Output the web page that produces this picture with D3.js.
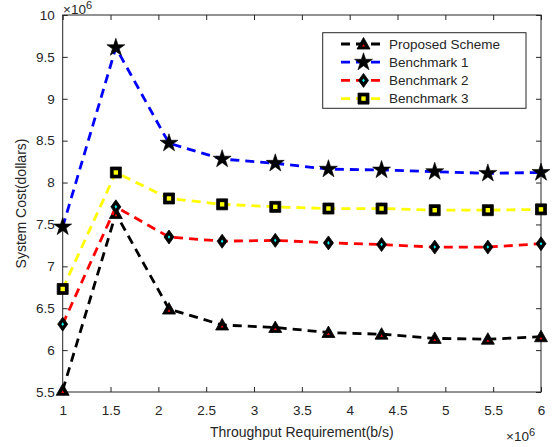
<!DOCTYPE html>
<html>
<head>
<meta charset="utf-8">
<script src="https://cdn.jsdelivr.net/npm/d3@7"></script>
<style>
body { margin: 0; background: #fff; }
svg text { font-family: "Liberation Sans", Arial, sans-serif; fill: #262626; }
</style>
</head>
<body>
<div id="chart"></div>
<script>
// throughput requirement (x 1e6 b/s)
var throughput = [1, 1.5556, 2.1111, 2.6667, 3.2222, 3.7778, 4.3333, 4.8889, 5.4444, 6];

// system cost (x 1e6 dollars)
var proposed = [5.52, 7.63, 6.49, 6.30, 6.27, 6.21, 6.19, 6.14, 6.13, 6.16];
var bench1   = [7.47, 9.61, 8.47, 8.28, 8.23, 8.16, 8.15, 8.13, 8.11, 8.12];
var bench2   = [6.31, 7.71, 7.35, 7.30, 7.31, 7.28, 7.26, 7.23, 7.23, 7.27];
var bench3   = [6.73, 8.12, 7.81, 7.74, 7.71, 7.69, 7.69, 7.67, 7.67, 7.68];

var seriesNames = ["Proposed Scheme", "Benchmark 1", "Benchmark 2", "Benchmark 3"];

var xTicks = [1, 1.5, 2, 2.5, 3, 3.5, 4, 4.5, 5, 5.5, 6];
var yTicks = [5.5, 6, 6.5, 7, 7.5, 8, 8.5, 9, 9.5, 10];

var series = [
  {name: seriesNames[0], values: proposed, color: "#000000", marker: "triangle", fill: "red"},
  {name: seriesNames[1], values: bench1, color: "#0000ff", marker: "star", fill: "black"},
  {name: seriesNames[2], values: bench2, color: "#ff0000", marker: "diamond", fill: "cyan"},
  {name: seriesNames[3], values: bench3, color: "#ffff00", marker: "square", fill: "yellow"}
];

var margin = {top: 15, right: 13, bottom: 55, left: 62.7};
var W = 554, H = 447;
var width = W - margin.left - margin.right,
    height = H - margin.top - margin.bottom;

var svg = d3.select("#chart").append("svg")
    .attr("width", W)
    .attr("height", H);

var g = svg.append("g")
    .attr("transform", "translate(" + margin.left + "," + margin.top + ")");

var x = d3.scaleLinear().domain([1, 6]).range([0, width]);
var y = d3.scaleLinear().domain([5.5, 10]).range([height, 0]);

var fmt = function (d) { return String(d); };

// axes, ticks pointing inward like matlab
var gx = g.append("g")
    .attr("transform", "translate(0," + height + ")")
    .call(d3.axisBottom(x).tickValues(xTicks).tickFormat(fmt).tickSizeInner(-5).tickSizeOuter(0).tickPadding(13));
var gxTop = g.append("g")
    .call(d3.axisTop(x).tickValues(xTicks).tickFormat("").tickSizeInner(-5).tickSizeOuter(0));
var gy = g.append("g")
    .call(d3.axisLeft(y).tickValues(yTicks).tickFormat(fmt).tickSizeInner(-5).tickSizeOuter(0).tickPadding(8));
var gyRight = g.append("g")
    .attr("transform", "translate(" + width + ",0)")
    .call(d3.axisRight(y).tickValues(yTicks).tickFormat("").tickSizeInner(-5).tickSizeOuter(0));

[gx, gxTop, gy, gyRight].forEach(function (a) {
  a.select(".domain").remove();
  a.selectAll(".tick line").attr("stroke", "#262626");
  a.selectAll(".tick text").style("font-size", "13.5px").attr("fill", "#262626");
});

g.append("rect")
    .attr("width", width)
    .attr("height", height)
    .attr("fill", "none")
    .attr("stroke", "#262626")
    .attr("stroke-width", 1);

// axis labels
svg.append("text")
    .attr("x", margin.left + width / 2)
    .attr("y", 437)
    .attr("text-anchor", "middle")
    .style("font-size", "14px")
    .text("Throughput Requirement(b/s)");

svg.append("text")
    .attr("transform", "translate(26," + (margin.top + height / 2) + ") rotate(-90)")
    .attr("text-anchor", "middle")
    .style("font-size", "14px")
    .text("System Cost(dollars)");

// exponent labels
function expLabel(px, py) {
  var t = svg.append("text").attr("x", px).attr("y", py).style("font-size", "13.5px");
  t.append("tspan").text("\u00d710");
  t.append("tspan").attr("dy", -5).style("font-size", "11px").text("6");
}
expLabel(63, 14);
expLabel(506, 441);

// marker shapes: black outline shape with a small coloured centre
function drawMarker(sel, s) {
  if (s.marker === "star") {
    sel.append("path")
        .attr("d", d3.symbol().type(d3.symbolStar).size(100)())
        .attr("fill", "black")
        .attr("stroke", "black")
        .attr("stroke-width", 0.6);
    return;
  }
  var outer, inner;
  if (s.marker === "triangle") {
    outer = "M0,-6.5L6.5,5L-6.5,5Z";
    inner = "M0,0.2L1.5,2.6L-1.5,2.6Z";
  } else if (s.marker === "diamond") {
    outer = "M0,-7L5,0L0,7L-5,0Z";
    inner = "M0,-1.8L1.3,0L0,1.8L-1.3,0Z";
  } else {
    outer = "M-5.5,-5.5H5.5V5.5H-5.5Z";
    inner = "M-2.2,-2.2H2.2V2.2H-2.2Z";
  }
  sel.append("path").attr("d", outer).attr("fill", "black")
      .attr("stroke", "black").attr("stroke-width", 0.8).attr("stroke-linejoin", "round");
  sel.append("path").attr("d", inner).attr("fill", s.fill);
}

var line = d3.line()
    .x(function (d, i) { return x(throughput[i]); })
    .y(function (d) { return y(d); });

series.forEach(function (s) {
  g.append("path")
      .datum(s.values)
      .attr("d", line)
      .attr("fill", "none")
      .attr("stroke", s.color)
      .attr("stroke-width", 2.8)
      .attr("stroke-dasharray", "9,6");

  s.values.forEach(function (v, i) {
    var m = g.append("g").attr("transform", "translate(" + x(throughput[i]) + "," + y(v) + ")");
    drawMarker(m, s);
  });
});

// legend
var legend = svg.append("g");
legend.append("rect")
    .attr("x", 322.7)
    .attr("y", 32.7)
    .attr("width", 203.3)
    .attr("height", 75.6)
    .attr("fill", "white")
    .attr("stroke", "#262626")
    .attr("stroke-width", 1);

series.forEach(function (s, i) {
  var ly = 44 + i * 18.2;
  legend.append("line")
      .attr("x1", 341).attr("x2", 386)
      .attr("y1", ly).attr("y2", ly)
      .attr("stroke", s.color)
      .attr("stroke-width", 2.8)
      .attr("stroke-dasharray", "9,6");
  var m = legend.append("g").attr("transform", "translate(363.5," + ly + ")");
  drawMarker(m, s);
  legend.append("text")
      .attr("x", 389)
      .attr("y", ly + 4.8)
      .style("font-size", "13.5px")
      .text(s.name);
});
</script>
</body>
</html>
